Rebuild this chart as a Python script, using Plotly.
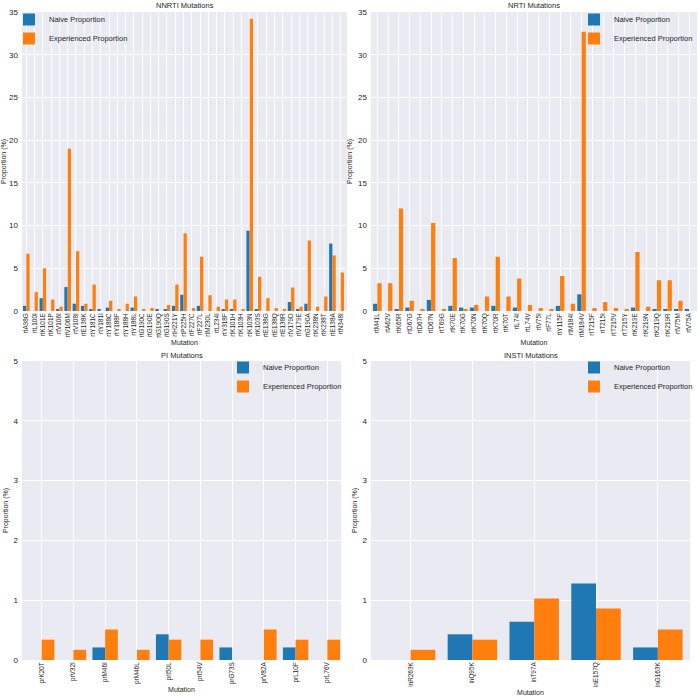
import plotly.graph_objects as go

# ---------------- data ----------------
nnrti_mut = ["rtA98G", "rtL100I", "rtK101E", "rtK101P", "rtV106I", "rtV106M", "rtV108I", "rtE138K",
             "rtY181C", "rtY181I", "rtY188C", "rtY188F", "rtY188H", "rtY188L", "rtG190C", "rtG190E",
             "rtG190Q", "rtG190S", "rtH221Y", "rtP225H", "rtF227C", "rtF227L", "rtM230L", "rtL234I",
             "rtY318F", "rtK101H", "rtK103H", "rtK103N", "rtK103S", "rtE138G", "rtE138Q", "rtE138R",
             "rtV179D", "rtV179E", "rtG190A", "rtK238N", "rtK238T", "rtE138A", "rtN348I"]
nnrti_naive = [0.6, 0, 1.5, 0, 0.2, 2.8, 0.85, 0.6,
               0.2, 0.2, 0.4, 0, 0, 0.4, 0, 0,
               0.2, 0.2, 0.6, 1.9, 0, 0.6, 0, 0,
               0.2, 0.2, 0, 9.4, 0.2, 0, 0, 0,
               1.05, 0.2, 0.85, 0, 0, 7.9, 0]
nnrti_exp = [6.7, 2.2, 5.0, 1.35, 0.5, 19.0, 7.0, 0.85,
             3.1, 0, 1.2, 0.17, 0.85, 1.7, 0.17, 0.35,
             0, 0.7, 3.1, 9.1, 0.35, 6.35, 1.85, 0.5,
             1.35, 1.35, 0.17, 34.2, 4.0, 1.5, 0.35, 0.17,
             2.75, 0.5, 8.25, 0.5, 1.7, 6.5, 4.5]

nrti_mut = ["rtM41L", "rtA62V", "rtK65R", "rtD67G", "rtD67H", "rtD67N", "rtT69G", "rtK70E",
            "rtK70G", "rtK70N", "rtK70Q", "rtK70R", "rtK70T", "rtL74I", "rtL74V", "rtV75I",
            "rtF77L", "rtY115F", "rtM184I", "rtM184V", "rtT215F", "rtT215I", "rtT215V", "rtT215Y",
            "rtK219E", "rtK219N", "rtK219Q", "rtK219R", "rtV75M", "rtV75A"]
nrti_naive = [0.85, 0, 0.2, 0.4, 0, 1.3, 0, 0.6,
              0.4, 0.4, 0, 0.6, 0, 0.4, 0, 0,
              0, 0.6, 0, 1.95, 0, 0, 0, 0,
              0.4, 0, 0.2, 0.2, 0.2, 0.2]
nrti_exp = [3.25, 3.25, 12.0, 1.2, 0.17, 10.3, 0.17, 6.2,
            0.17, 0.7, 1.7, 6.35, 1.7, 3.8, 0.7, 0.35,
            0.17, 4.1, 0.85, 32.7, 0.35, 1.05, 0.35, 0.17,
            6.9, 0.5, 3.6, 3.6, 1.2, 0]

pi_mut = ["prK20T", "prV32I", "prM46I", "prM46L", "prI50L", "prI54V", "prG73S", "prV82A", "prL10F", "prL76V"]
pi_naive = [0, 0, 0.21, 0, 0.43, 0, 0.21, 0, 0.21, 0]
pi_exp = [0.34, 0.17, 0.51, 0.17, 0.34, 0.34, 0, 0.51, 0.34, 0.34]

insti_mut = ["inR263K", "inQ95K", "inT97A", "inE157Q", "inG163K"]
insti_naive = [0, 0.43, 0.64, 1.28, 0.21]
insti_exp = [0.17, 0.34, 1.03, 0.86, 0.51]

titles = ["NNRTI Mutations", "NRTI Mutations", "PI Mutations", "INSTI Mutations"]
series_names = ["Naive Proportion", "Experienced Proportion"]

# ---------------- layout helpers ----------------
W = H = 700
BLUE = "#1f77b4"
ORANGE = "#ff7f0e"
BG = "#EAEAF2"
FONT = "Liberation Sans, Arial, sans-serif"
TXT = "#262626"

def px(x):
    return x / W

def py(y):
    return 1 - y / H

panels = [
    dict(cats=nnrti_mut, naive=nnrti_naive, exp=nnrti_exp, xpx=(22, 347), ypx=(12, 311),
         xr=(-0.52, 38.76), yr=(0, 35), dt=5, leg=("left", 9, 5)),
    dict(cats=nrti_mut, naive=nrti_naive, exp=nrti_exp, xpx=(371, 697), ypx=(12, 311),
         xr=(-0.59, 29.74), yr=(0, 35), dt=5, leg=("right", 698, 5)),
    dict(cats=pi_mut, naive=pi_naive, exp=pi_exp, xpx=(22, 341), ypx=(361, 660),
         xr=(-0.62, 9.43), yr=(0, 5), dt=1, leg=("right", 347, 353)),
    dict(cats=insti_mut, naive=insti_naive, exp=insti_exp, xpx=(371, 690), ypx=(361, 660),
         xr=(-0.64, 4.52), yr=(0, 5), dt=1, leg=("right", 698, 353)),
]

fig = go.Figure()
layout = dict(
    width=W, height=H,
    margin=dict(l=0, r=0, t=0, b=0, pad=0),
    paper_bgcolor="white",
    barmode="group", bargap=0.2, bargroupgap=0,
    font=dict(family=FONT, size=7, color=TXT),
    annotations=[],
)

for i, p in enumerate(panels):
    n = i + 1
    sfx = "" if n == 1 else str(n)
    legname = "legend" if n == 1 else f"legend{n}"
    for name, vals, col in ((series_names[0], p["naive"], BLUE), (series_names[1], p["exp"], ORANGE)):
        fig.add_trace(go.Bar(
            x=p["cats"], y=vals, name=name, marker=dict(color=col, line=dict(width=0)),
            xaxis=f"x{sfx}", yaxis=f"y{sfx}", legend=legname,
        ))
    layout[f"xaxis{sfx}"] = dict(
        domain=[px(p["xpx"][0]), px(p["xpx"][1])], anchor=f"y{sfx}", automargin=False,
        type="category", range=list(p["xr"]), tickangle=-90,
        showgrid=True, gridcolor="white", gridwidth=1, zeroline=False, showline=False,
        ticks="", tickfont=dict(size=6.4, color=TXT), ticklabelstandoff=0,
        title=dict(text="Mutation", font=dict(size=7, color=TXT), standoff=3),
    )
    layout[f"yaxis{sfx}"] = dict(
        domain=[py(p["ypx"][1]), py(p["ypx"][0])], anchor=f"x{sfx}", automargin=False,
        range=list(p["yr"]), dtick=p["dt"], tick0=0,
        showgrid=True, gridcolor="white", gridwidth=1, zeroline=False, showline=False,
        ticks="", tickfont=dict(size=8, color=TXT), ticklabelstandoff=3,
        title=dict(text="Proportion (%)", font=dict(size=7, color=TXT), standoff=4),
    )
    side, lx, ly = p["leg"]
    layout[legname] = dict(
        x=px(lx), xanchor=side, y=py(ly), yanchor="top",
        bgcolor="rgba(0,0,0,0)", borderwidth=0, font=dict(size=7.5, color=TXT),
        tracegroupgap=0, itemwidth=30,
    )
    layout["annotations"].append(dict(
        text=titles[i], x=px((p["xpx"][0] + p["xpx"][1]) / 2), y=py(p["ypx"][0] - 6),
        xref="paper", yref="paper", showarrow=False, xanchor="center", yanchor="middle",
        font=dict(size=7.5, color=TXT),
    ))

layout["plot_bgcolor"] = BG
fig.update_layout(**layout)
fig.write_html("out.html", config={"displayModeBar": False},
               post_script="document.body.style.margin='0px';")
